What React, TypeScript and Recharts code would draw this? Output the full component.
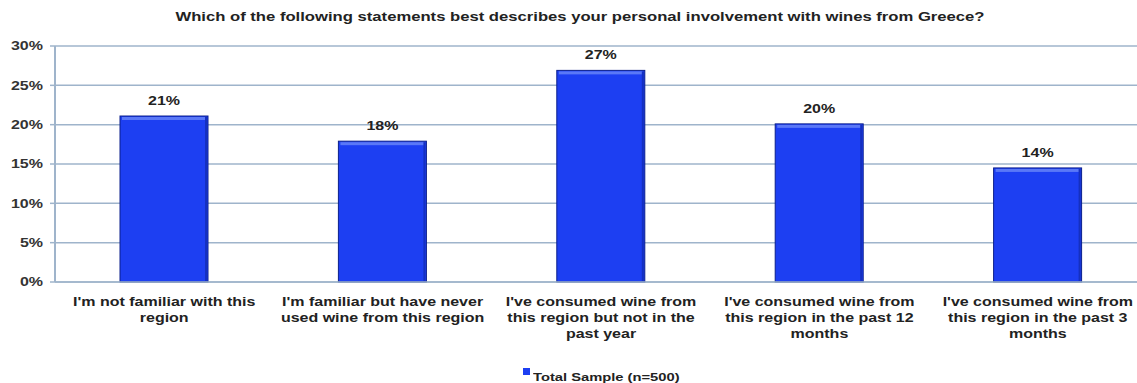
import React from "react";
import { Bar, BarChart, CartesianGrid, LabelList, Legend, XAxis, YAxis } from "recharts";

const title = "Which of the following statements best describes your personal involvement with wines from Greece?";
const seriesName = "Total Sample (n=500)";
const categories = [
  "I'm not familiar with this\nregion",
  "I'm familiar but have never\nused wine from this region",
  "I've consumed wine from\nthis region but not in the\npast year",
  "I've consumed wine from\nthis region in the past 12\nmonths",
  "I've consumed wine from\nthis region in the past 3\nmonths",
];
const values = [21.1, 17.9, 26.9, 20.1, 14.5];
const valueLabels = ["21%", "18%", "27%", "20%", "14%"];
const yTicks = [0, 5, 10, 15, 20, 25, 30];

const data = categories.map((name, i) => ({ name, value: values[i], label: valueLabels[i] }));

const TEXT = "#222";
const GRID = "#9fb4cb";
const BLUE = "#1d3ff2";
const FONT = "'Liberation Sans', Arial, sans-serif";
const STRETCH = 1.28;

function XTick({ x, y, payload }: any) {
  const lines = String(payload.value).split("\n");
  return (
    <g transform={`translate(${x},${y})`}>
      {lines.map((line, i) => (
        <text
          key={i}
          transform={`translate(0,${12 + i * 16}) scale(${STRETCH},1)`}
          textAnchor="middle"
          dy="0.35em"
          fontFamily={FONT}
          fontWeight="bold"
          fontSize={12.5}
          fill={TEXT}
        >
          {line}
        </text>
      ))}
    </g>
  );
}

function YTick({ x, y, payload }: any) {
  return (
    <g transform={`translate(${x},${y})`}>
      <text transform={`scale(${STRETCH},1)`} textAnchor="end" dy="0.35em" fontFamily={FONT} fontWeight="bold" fontSize={12.5} fill="#333">
        {payload.value}%
      </text>
    </g>
  );
}

function BarShape({ x, y, width, height }: any) {
  if (!height || height <= 0) return null;
  return (
    <g>
      <rect x={x} y={y} width={width} height={height} fill={BLUE} stroke="#0b1f8c" strokeWidth={1} />
      <rect x={x + 2} y={y + 1} width={width - 4} height={3} fill="#5a78f7" />
      <rect x={x + width - 3} y={y + 1} width={2} height={height - 1} fill="#1530c0" />
    </g>
  );
}

function ValueLabel({ x, y, width, index }: any) {
  return (
    <g transform={`translate(${x + width / 2},${y - 11})`}>
      <text transform={`scale(${STRETCH},1)`} textAnchor="middle" fontFamily={FONT} fontWeight="bold" fontSize={12.5} fill={TEXT}>
        {valueLabels[index]}
      </text>
    </g>
  );
}

function LegendContent() {
  return (
    <div style={{ paddingTop: 2, paddingLeft: 523, height: 18, boxSizing: "border-box", textAlign: "left", whiteSpace: "nowrap" }}>
      <span style={{ display: "inline-block", width: 7, height: 7, background: BLUE, verticalAlign: "top", marginTop: 1 }} />
      <span
        style={{
          display: "inline-block",
          marginLeft: 3,
          fontFamily: FONT,
          fontWeight: "bold",
          fontSize: 11.5,
          lineHeight: "14px",
          color: TEXT,
          transform: `scaleX(${STRETCH})`,
          transformOrigin: "left center",
        }}
      >
        {seriesName}
      </span>
    </div>
  );
}

export default function App() {
  return (
    <div style={{ position: "absolute", left: 0, top: 0, width: 1137, height: 383, overflow: "hidden", background: "#fff" }}>
      <div
        style={{
          position: "absolute",
          left: 0,
          top: 9,
          width: 1160,
          textAlign: "center",
          fontFamily: FONT,
          fontWeight: "bold",
          fontSize: 13,
          lineHeight: "16px",
          color: TEXT,
          transform: `scaleX(${STRETCH})`,
          transformOrigin: "580px center",
        }}
      >
        {title}
      </div>
      <BarChart width={1147} height={383} data={data} margin={{ top: 46, right: 0, left: 0, bottom: 0 }} barCategoryGap={0}>
        <CartesianGrid vertical={false} stroke={GRID} strokeWidth={1.5} />
        <XAxis dataKey="name" height={83} interval={0} tickLine={false} axisLine={{ stroke: GRID, strokeWidth: 1.5 }} tick={<XTick />} />
        <YAxis
          width={55}
          domain={[0, 30]}
          ticks={yTicks}
          interval={0}
          tickSize={5}
          tickMargin={7}
          tickLine={{ stroke: GRID, strokeWidth: 1.5 }}
          axisLine={{ stroke: GRID, strokeWidth: 2 }}
          tick={<YTick />}
        />
        <Legend verticalAlign="bottom" height={18} content={<LegendContent />} />
        <Bar dataKey="value" name={seriesName} barSize={88} shape={<BarShape />} isAnimationActive={false}>
          <LabelList dataKey="label" content={<ValueLabel />} />
        </Bar>
      </BarChart>
    </div>
  );
}
